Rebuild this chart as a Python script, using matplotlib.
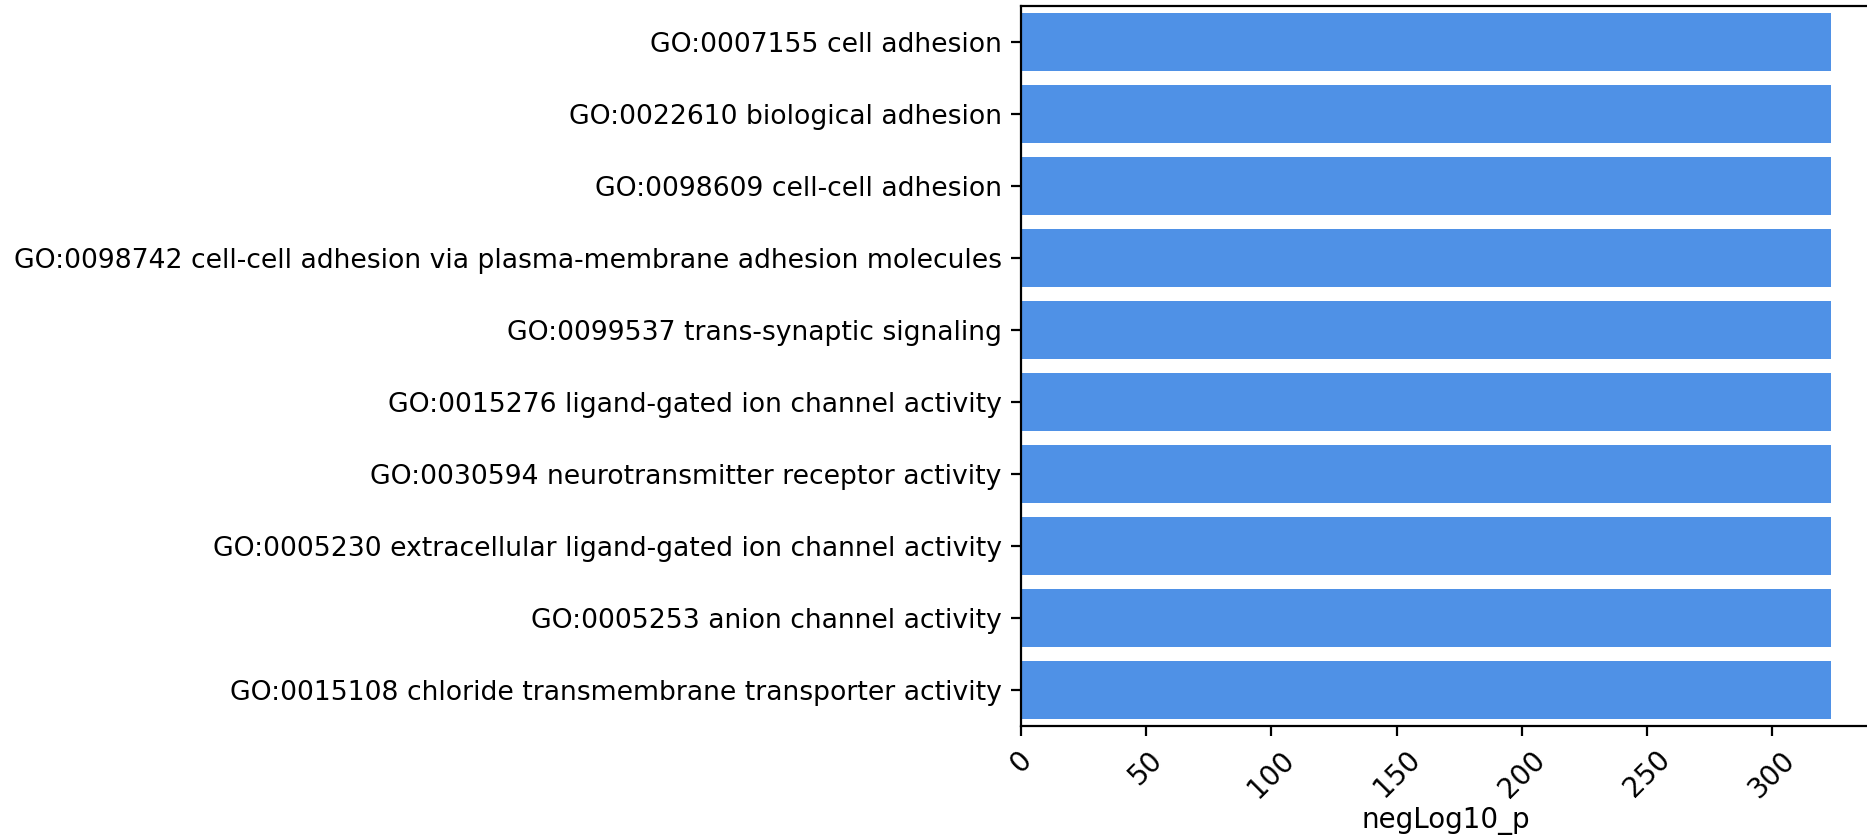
import numpy as np
import matplotlib
matplotlib.use("Agg")
import matplotlib.pyplot as plt

# GO terms and their -log10(p) values
terms = [
    "GO:0007155 cell adhesion",
    "GO:0022610 biological adhesion",
    "GO:0098609 cell-cell adhesion",
    "GO:0098742 cell-cell adhesion via plasma-membrane adhesion molecules",
    "GO:0099537 trans-synaptic signaling",
    "GO:0015276 ligand-gated ion channel activity",
    "GO:0030594 neurotransmitter receptor activity",
    "GO:0005230 extracellular ligand-gated ion channel activity",
    "GO:0005253 anion channel activity",
    "GO:0015108 chloride transmembrane transporter activity",
]
neglog10_p = [323.3, 323.3, 323.3, 323.3, 323.3, 323.3, 323.3, 323.3, 323.3, 323.3]
xticks = [0, 50, 100, 150, 200, 250, 300]

fig = plt.figure(figsize=(1867 / 200, 836 / 200), dpi=200)
ax = fig.add_axes([1021 / 1867, 110 / 836, 850 / 1867, 720 / 836])

y = np.arange(len(terms))
ax.barh(y, neglog10_p, height=0.8, color="#4f91e6")
ax.set_yticks(y)
ax.set_yticklabels(terms, fontsize=9.6)
ax.set_ylim(len(terms) - 0.5, -0.5)
ax.set_xlim(0, max(neglog10_p) * 1.05)
ax.set_xticks(xticks)
ax.tick_params(axis="x", labelsize=10)
plt.setp(ax.get_xticklabels(), rotation=45)
ax.set_xlabel("negLog10_p", fontsize=10, labelpad=1.5)

fig.savefig("out.png", dpi=200)
